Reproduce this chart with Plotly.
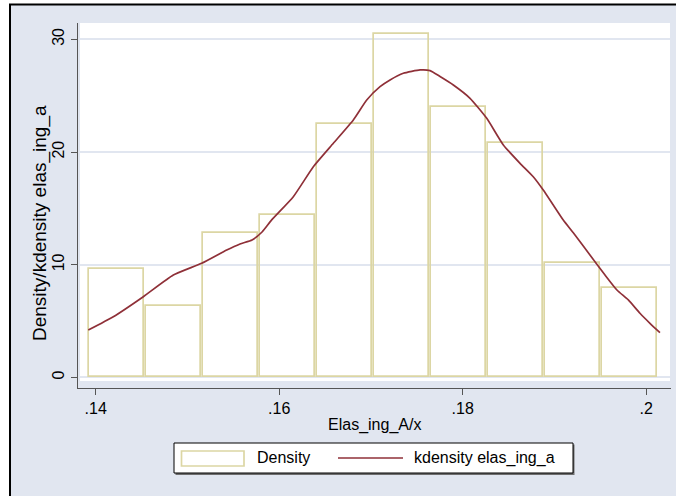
import numpy as np
import plotly.graph_objects as go

# Histogram of Elas_ing_A/x (density scale)
bin_edges = [0.13919, 0.14540, 0.15162, 0.15783, 0.16404, 0.17026,
             0.17647, 0.18268, 0.18889, 0.19511, 0.20132]
density = [9.63, 6.37, 12.82, 14.42, 22.47, 30.48, 24.03, 20.83, 10.2, 7.94]

# Kernel density estimate of elas_ing_a
kde_x = [0.13919, 0.14192, 0.14519, 0.14846, 0.15155, 0.15428, 0.15573,
         0.15704, 0.15813, 0.15918, 0.16154, 0.16372, 0.16590, 0.16808,
         0.16954, 0.17099, 0.17208, 0.17353, 0.17535, 0.17644, 0.17753,
         0.17898, 0.18080, 0.18262, 0.18443, 0.18625, 0.18769, 0.18878,
         0.18987, 0.19096, 0.19224, 0.19387, 0.19551, 0.19681, 0.19805,
         0.19932, 0.20041, 0.20150]
kde_y = [4.21, 5.39, 7.17, 9.09, 10.13, 11.31, 11.85,
         12.20, 12.91, 13.98, 16.04, 18.70, 20.78, 22.85,
         24.62, 25.80, 26.40, 26.99, 27.29, 27.23, 26.70,
         25.95, 24.77, 22.99, 20.63, 19.00, 17.81, 16.63,
         15.30, 13.97, 12.64, 10.87, 9.09, 7.76, 6.88,
         5.70, 4.81, 3.98]

x_tickvals = [0.14, 0.16, 0.18, 0.20]
x_ticktext = [".14", ".16", ".18", ".2"]
y_tickvals = [0, 10, 20, 30]
y_ticktext = ["0", "10", "20", "30"]

x_title = "Elas_ing_A/x"
y_title = "Density/kdensity elas_ing_a"
legend_labels = ["Density", "kdensity elas_ing_a"]

# Style
W, H = 676, 496
L, R, T, B = 78, 671, 23, 388          # plot area in pixels
BG = "#e1e6f0"
BAR_LINE = "#dcd6a4"
KDE_COLOR = "#8f3038"
AXIS_COLOR = "#555555"
FONT = "Liberation Sans, Arial, sans-serif"
BAR_FILL_RATIO = 0.965


def fx(p):
    return (p - L) / (R - L)


def fy(p):
    return (B - p) / (B - T)


edges = np.array(bin_edges)
centers = (edges[:-1] + edges[1:]) / 2
widths = np.diff(edges) * BAR_FILL_RATIO

fig = go.Figure()
fig.add_trace(go.Bar(
    x=centers, y=density, width=widths, base=0,
    marker=dict(color="rgba(255,255,255,0)", line=dict(color=BAR_LINE, width=1.7)),
    showlegend=False, hoverinfo="skip",
))
fig.add_trace(go.Scatter(
    x=kde_x, y=kde_y, mode="lines",
    line=dict(color=KDE_COLOR, width=1.7, shape="spline", smoothing=0.5),
    showlegend=False, hoverinfo="skip",
))

shapes = [
    # outer frame of the graph region
    dict(type="rect", xref="paper", yref="paper", layer="below",
         x0=fx(10), x1=fx(W + 20), y0=fy(4.5), y1=fy(H + 20),
         fillcolor=BG, line=dict(color="black", width=2)),
    # white plot region
    dict(type="rect", xref="paper", yref="paper", layer="below",
         x0=fx(80), x1=fx(670), y0=fy(23), y1=fy(381),
         fillcolor="white", line=dict(width=0)),
    # legend box shadow and box
    dict(type="rect", xref="paper", yref="paper", layer="above",
         x0=fx(175.5), x1=fx(574.5), y0=fy(444.5), y1=fy(475),
         fillcolor="#6e6e6e", line=dict(width=0)),
    dict(type="rect", xref="paper", yref="paper", layer="above",
         x0=fx(174), x1=fx(573), y0=fy(443), y1=fy(473),
         fillcolor="white", line=dict(color="black", width=1)),
    # legend keys
    dict(type="rect", xref="paper", yref="paper", layer="above",
         x0=fx(181.5), x1=fx(244), y0=fy(451), y1=fy(466),
         fillcolor="white", line=dict(color=BAR_LINE, width=1.7)),
    dict(type="line", xref="paper", yref="paper", layer="above",
         x0=fx(338), x1=fx(403), y0=fy(458), y1=fy(458),
         line=dict(color=KDE_COLOR, width=1.7)),
]

annotations = [
    dict(text=x_title, xref="paper", yref="paper", x=fx(374), y=fy(425),
         xanchor="center", yanchor="middle", showarrow=False,
         font=dict(family=FONT, size=16, color="black")),
    dict(text=y_title, xref="paper", yref="paper", x=fx(40), y=fy(223),
         xanchor="center", yanchor="middle", showarrow=False, textangle=-90,
         font=dict(family=FONT, size=19, color="black")),
    dict(text=legend_labels[0], xref="paper", yref="paper", x=fx(255), y=fy(458),
         xanchor="left", yanchor="middle", showarrow=False,
         font=dict(family=FONT, size=16, color="black")),
    dict(text=legend_labels[1], xref="paper", yref="paper", x=fx(412), y=fy(458),
         xanchor="left", yanchor="middle", showarrow=False,
         font=dict(family=FONT, size=16, color="black")),
]

fig.update_layout(
    width=W, height=H,
    margin=dict(l=L, r=W - R, t=T, b=H - B, pad=0),
    paper_bgcolor="white", plot_bgcolor=BG,
    font=dict(family=FONT, size=16, color="black"),
    showlegend=False, bargap=0,
    shapes=shapes, annotations=annotations,
    xaxis=dict(
        range=[0.138071, 0.202703], tickvals=x_tickvals, ticktext=x_ticktext,
        showgrid=False, zeroline=False, showline=True, linecolor=AXIS_COLOR,
        linewidth=1.3, ticks="outside", ticklen=6, tickwidth=1.2,
        tickcolor=AXIS_COLOR, tickfont=dict(family=FONT, size=16, color="black"),
    ),
    yaxis=dict(
        range=[-0.932, 31.45], tickvals=y_tickvals, ticktext=y_ticktext,
        showgrid=True, gridcolor=BG, gridwidth=1.6, zeroline=False,
        showline=True, linecolor=AXIS_COLOR, linewidth=1.3,
        ticks="outside", ticklen=6, tickwidth=1.2, tickcolor=AXIS_COLOR,
        tickangle=-90, tickfont=dict(family=FONT, size=16, color="black"),
    ),
)

fig.write_html("out.html")
